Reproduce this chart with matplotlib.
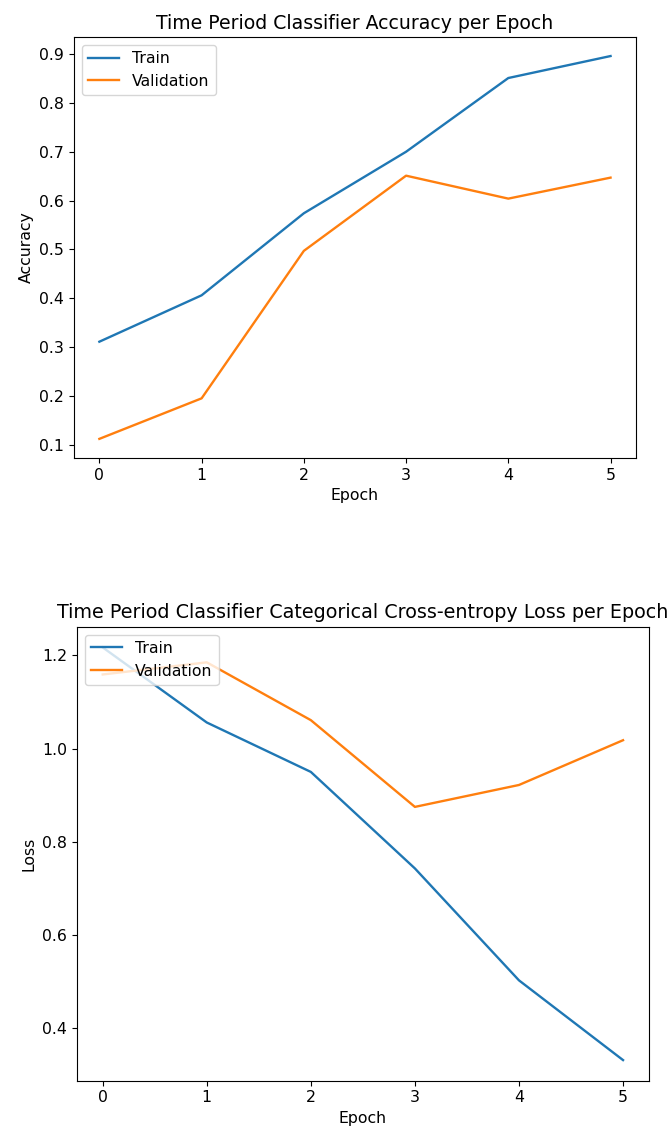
import matplotlib
matplotlib.use("Agg")
import matplotlib.pyplot as plt

epochs = [0, 1, 2, 3, 4, 5]

train_acc = [0.311, 0.406, 0.574, 0.700, 0.851, 0.896]
val_acc = [0.112, 0.195, 0.497, 0.651, 0.604, 0.647]

train_loss = [1.217, 1.056, 0.950, 0.743, 0.503, 0.332]
val_loss = [1.159, 1.185, 1.061, 0.875, 0.922, 1.018]

fs = 11.3

fig = plt.figure(figsize=(6.71, 11.32), dpi=100)

# accuracy plot
ax1 = fig.add_axes([0.110, 0.5954, 0.838, 0.372])
ax1.plot(epochs, train_acc, label='Train', linewidth=1.7)
ax1.plot(epochs, val_acc, label='Validation', linewidth=1.7)
ax1.set_title('Time Period Classifier Accuracy per Epoch', fontsize=13.6)
ax1.set_ylabel('Accuracy', fontsize=fs)
ax1.set_xlabel('Epoch', fontsize=fs)
ax1.tick_params(labelsize=fs)
ax1.legend(loc='upper left', fontsize=fs)

# loss plot
ax2 = fig.add_axes([0.1143, 0.0453, 0.853, 0.401])
ax2.plot(epochs, train_loss, label='Train', linewidth=1.7)
ax2.plot(epochs, val_loss, label='Validation', linewidth=1.7)
ax2.set_title('Time Period Classifier Categorical Cross-entropy Loss per Epoch', fontsize=13.8)
ax2.set_ylabel('Loss', fontsize=fs)
ax2.set_xlabel('Epoch', fontsize=fs)
ax2.set_yticks([0.4, 0.6, 0.8, 1.0, 1.2])
ax2.tick_params(labelsize=fs)
ax2.legend(loc='upper left', fontsize=fs)

fig.savefig('out.png', dpi=100)
